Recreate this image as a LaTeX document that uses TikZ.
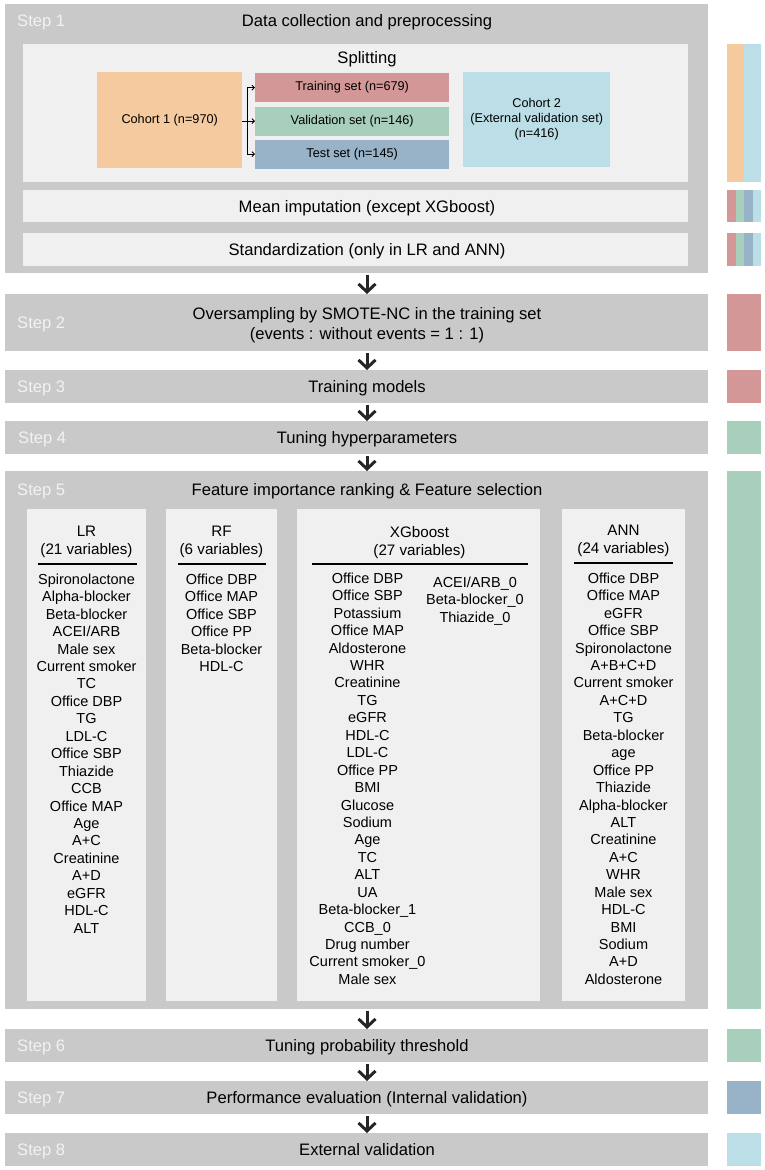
\documentclass[tikz,border=0pt]{standalone}
\usepackage{fontspec}
\setmainfont{Liberation Sans}
\usetikzlibrary{positioning}
\usetikzlibrary{arrows.meta}

\definecolor{boxgray}{HTML}{C9C9C9}
\definecolor{innergray}{HTML}{F0F0F0}
\definecolor{labelwhite}{HTML}{F2F2F2}
\definecolor{arrowgray}{HTML}{262626}
\definecolor{cohortorange}{HTML}{F4CA9E}
\definecolor{trainred}{HTML}{D49797}
\definecolor{validgreen}{HTML}{A8CFBB}
\definecolor{testblue}{HTML}{98B2C8}
\definecolor{extblue}{HTML}{BCDEE6}

\begin{document}
\begin{tikzpicture}[x=1pt, y=-1pt, font=\fontsize{16.6}{20}\selectfont,
stepbox/.style ={fill=boxgray, inner sep=0, anchor=north west, minimum width=703},
innerbox/.style ={fill=innergray, inner sep=0, anchor=north west},
steplabel/.style ={text=labelwhite, anchor=base west, inner sep=0},
steptitle/.style ={inner sep=0, anchor=base},
setbox/.style ={inner sep=0, anchor=north west, minimum width=194, minimum height=29, font=\fontsize{12.7}{15}\selectfont},
cohortbox/.style ={inner sep=0, anchor=north west, align=center, font=\fontsize{12.7}{15}\selectfont},
modelhead/.style ={inner sep=0, anchor=north, align=center, font=\fontsize{15.2}{18}\selectfont},
item/.style ={inner sep=0, anchor=base, font=\fontsize{14.5}{17}\selectfont},
headrule/.style ={draw=black, line width=1.1pt},
flow/.style ={draw=arrowgray, line width=3pt, shorten <=1.5pt, -{Straight Barb[length=8pt,width=17pt,line width=3pt]}},
forkline/.style ={draw=black, line width=0.9pt, -{Straight Barb[length=2.5pt,width=5pt]}},
bar/.style ={inner sep=0, anchor=north west, minimum width=34}]
\useasboundingbox (0,0) rectangle (765,1170);

% steps
\node[stepbox, minimum height=269] (s1) at (5,4) {};
\node[stepbox, minimum height=57] (s2) at (5,294) {};
\node[stepbox, minimum height=33] (s3) at (5,370) {};
\node[stepbox, minimum height=33] (s4) at (5,421) {};
\node[stepbox, minimum height=538] (s5) at (5,471) {};
\node[stepbox, minimum height=33] (s6) at (5,1029) {};
\node[stepbox, minimum height=33] (s7) at (5,1081) {};
\node[stepbox, minimum height=33] (s8) at (5,1133) {};

\node[steplabel] (l1) at (17,26) {Step 1};
\node[steplabel] (l2) at (17,328.5) {Step 2};
\node[steplabel] (l3) at (17,392.5) {Step 3};
\node[steplabel] (l4) at (18,443.5) {Step 4};
\node[steplabel] (l5) at (17,495) {Step 5};
\node[steplabel] (l6) at (17,1051.5) {Step 6};
\node[steplabel] (l7) at (17,1103.5) {Step 7};
\node[steplabel] (l8) at (17,1155.5) {Step 8};

\node[steptitle] (t1) at (367,26) {Data collection and preprocessing};
\node[steptitle, anchor=north, align=center] (t2) at (367,307) {Oversampling by SMOTE-NC in the training set\\(events : without events = 1 : 1)};
\node[steptitle] (t3) at (367,392.5) {Training models};
\node[steptitle] (t4) at (367,443.5) {Tuning hyperparameters};
\node[steptitle] (t5) at (367,495) {Feature importance ranking \& Feature selection};
\node[steptitle] (t6) at (367,1051.5) {Tuning probability threshold};
\node[steptitle] (t7) at (367,1103.5) {Performance evaluation (Internal validation)};
\node[steptitle] (t8) at (367,1155.5) {External validation};

% step 1 contents
\node[innerbox, minimum width=665, minimum height=138] (split) at (23,44) {};
\node[innerbox, minimum width=665, minimum height=32] (impute) at (23,190) {};
\node[innerbox, minimum width=665, minimum height=33] (stdz) at (23,233) {};
\node[steptitle] (splitt) at (367,63) {Splitting};
\node[steptitle] (imputet) at (367,212) {Mean imputation (except XGboost)};
\node[steptitle] (stdzt) at (367,255.5) {Standardization (only in LR and ANN)};

\node[cohortbox, fill=cohortorange, minimum width=145, minimum height=96] (coh1) at (97,72) {Cohort 1 (n=970)};
\node[setbox, fill=trainred] (train) at (255,73) {Training set (n=679)};
\node[setbox, fill=validgreen] (valid) at (255,106.5) {Validation set (n=146)};
\node[setbox, fill=testblue] (test) at (255,139.5) {Test set (n=145)};
\node[cohortbox, fill=extblue, minimum width=147, minimum height=95] (coh2) at (463,72) {Cohort 2\\(External validation set)\\(n=416)};

\coordinate (fork) at ([xshift=5pt]coh1.east |- valid.west);
\draw[forkline] (coh1.east |- valid.west) -- (valid.west);
\draw[forkline] (fork) |- (train.west);
\draw[forkline] (fork) |- (test.west);

% step 5 contents
\node[innerbox, minimum width=119, minimum height=492] (lr) at (27,509) {};
\node[innerbox, minimum width=111, minimum height=492] (rf) at (166,509) {};
\node[innerbox, minimum width=243, minimum height=492] (xgb) at (297,509) {};
\node[innerbox, minimum width=123, minimum height=492] (ann) at (562,509) {};

\node[modelhead] (lrhead) at (86.5,525.5) {LR\\(21 variables)};
\node[modelhead] (rfhead) at (221.5,525.5) {RF\\(6 variables)};
\node[modelhead] (xgbhead) at (419.5,526) {XGboost\\(27 variables)};
\node[modelhead] (annhead) at (623.5,524.5) {ANN\\(24 variables)};

\draw[headrule] (38,564) -- (137,564);
\draw[headrule] (178,564) -- (266,564);
\draw[headrule] (312,564) -- (528,564);
\draw[headrule] (574,563) -- (673,563);

\foreach \v [count=\i] in {Spironolactone, Alpha-blocker, Beta-blocker, ACEI/ARB, Male sex, Current smoker, TC, Office DBP, TG, LDL-C, Office SBP, Thiazide, CCB, Office MAP, Age, A+C, Creatinine, A+D, eGFR, HDL-C, ALT}
  \node[item] (lr-\i) at (86.5,584.2+17.45*\i-17.45) {\v};

\foreach \v [count=\i] in {Office DBP, Office MAP, Office SBP, Office PP, Beta-blocker, HDL-C}
  \node[item] (rf-\i) at (221.5,584.2+17.45*\i-17.45) {\v};

\foreach \v [count=\i] in {Office DBP, Office SBP, Potassium, Office MAP, Aldosterone, WHR, Creatinine, TG, eGFR, HDL-C, LDL-C, Office PP, BMI, Glucose, Sodium, Age, TC, ALT, UA, Beta-blocker\_1, CCB\_0, Drug number, Current smoker\_0, Male sex}
  \node[item] (xgb-\i) at (367.5,583.4+17.43*\i-17.43) {\v};

\foreach \v [count=\i] in {ACEI/ARB\_0, Beta-blocker\_0, Thiazide\_0}
  \node[item] (xgbb-\i) at (475,587.4+17.43*\i-17.43) {\v};

\foreach \v [count=\i] in {Office DBP, Office MAP, eGFR, Office SBP, Spironolactone, A+B+C+D, Current smoker, A+C+D, TG, Beta-blocker, age, Office PP, Thiazide, Alpha-blocker, ALT, Creatinine, A+C, WHR, Male sex, HDL-C, BMI, Sodium, A+D, Aldosterone}
  \node[item] (ann-\i) at (623.5,583.4+17.43*\i-17.43) {\v};

% arrows between steps
\draw[flow] (t1 |- s1.south) -- (t1 |- s2.north);
\draw[flow] (t1 |- s2.south) -- (t1 |- s3.north);
\draw[flow] (t1 |- s3.south) -- (t1 |- s4.north);
\draw[flow] (t1 |- s4.south) -- (t1 |- s5.north);
\draw[flow] (t1 |- s5.south) -- (t1 |- s6.north);
\draw[flow] (t1 |- s6.south) -- (t1 |- s7.north);
\draw[flow] (t1 |- s7.south) -- (t1 |- s8.north);

% data used at each step
\node[bar, fill=cohortorange, minimum width=17, minimum height=138] (bcoh1) at (727,44) {};
\node[bar, fill=extblue, minimum width=17, minimum height=138] (bcoh2) at (744,44) {};
\foreach \c [count=\i] in {trainred, validgreen, testblue, extblue} {
  \node[bar, fill=\c, minimum width=8.5, minimum height=32] (bimp-\i) at (718.5+8.5*\i,190) {};
  \node[bar, fill=\c, minimum width=8.5, minimum height=33] (bstd-\i) at (718.5+8.5*\i,233) {};
}
\node[bar, fill=trainred, minimum height=57] (b2) at (727,294) {};
\node[bar, fill=trainred, minimum height=33] (b3) at (727,370) {};
\node[bar, fill=validgreen, minimum height=33] (b4) at (727,421) {};
\node[bar, fill=validgreen, minimum height=538] (b5) at (727,471) {};
\node[bar, fill=validgreen, minimum height=33] (b6) at (727,1029) {};
\node[bar, fill=testblue, minimum height=33] (b7) at (727,1081) {};
\node[bar, fill=extblue, minimum height=33] (b8) at (727,1133) {};
\end{tikzpicture}
\end{document}
